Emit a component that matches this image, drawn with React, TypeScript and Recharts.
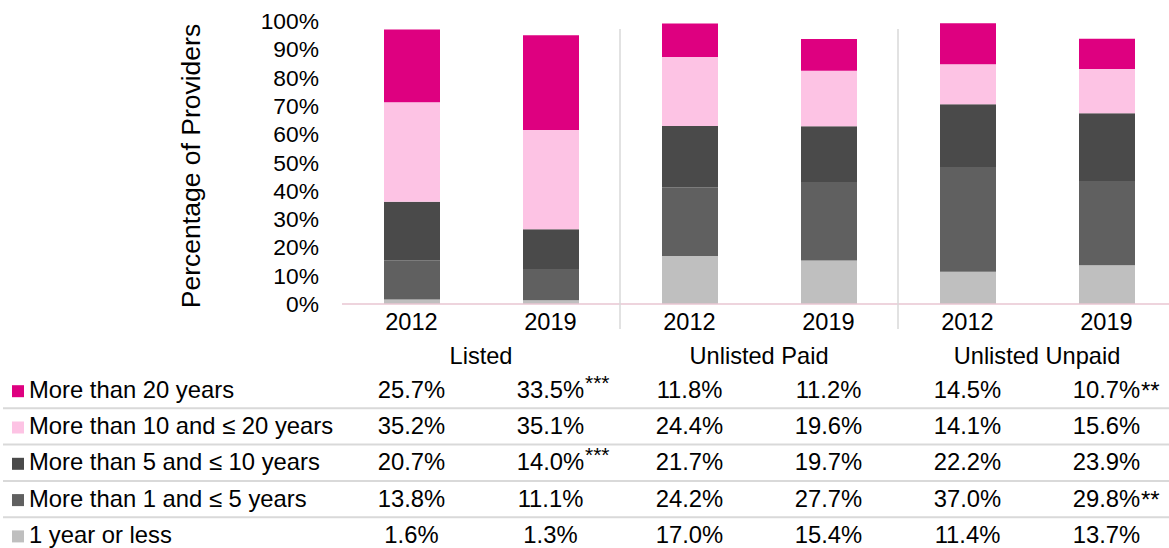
import { BarChart, Bar, XAxis, YAxis } from "recharts";

const years = ["2012", "2019", "2012", "2019", "2012", "2019"];
const groups = ["Listed", "Unlisted Paid", "Unlisted Unpaid"];
const yTicks = [0, 10, 20, 30, 40, 50, 60, 70, 80, 90, 100];

const over20 = [25.7, 33.5, 11.8, 11.2, 14.5, 10.7];
const tenTo20 = [35.2, 35.1, 24.4, 19.6, 14.1, 15.6];
const fiveTo10 = [20.7, 14.0, 21.7, 19.7, 22.2, 23.9];
const oneTo5 = [13.8, 11.1, 24.2, 27.7, 37.0, 29.8];
const upTo1 = [1.6, 1.3, 17.0, 15.4, 11.4, 13.7];

// significance markers shown next to the table values
const over20Sig = ["", "***", "", "", "", "**"];
const tenTo20Sig = ["", "", "", "", "", ""];
const fiveTo10Sig = ["", "***", "", "", "", ""];
const oneTo5Sig = ["", "", "", "", "", "**"];
const upTo1Sig = ["", "", "", "", "", ""];

const seriesKeys = ["over20", "tenTo20", "fiveTo10", "oneTo5", "upTo1"];
const seriesNames = [
  "More than 20 years",
  "More than 10 and ≤ 20 years",
  "More than 5 and ≤ 10 years",
  "More than 1 and ≤ 5 years",
  "1 year or less",
];
const seriesColors = ["#DE0080", "#FDC3E4", "#4A4A4A", "#606060", "#BFBFBF"];
const seriesValues = [over20, tenTo20, fiveTo10, oneTo5, upTo1];
const seriesSig = [over20Sig, tenTo20Sig, fiveTo10Sig, oneTo5Sig, upTo1Sig];

const data = years.map((year, i) => ({
  idx: i,
  year,
  over20: over20[i],
  tenTo20: tenTo20[i],
  fiveTo10: fiveTo10[i],
  oneTo5: oneTo5[i],
  upTo1: upTo1[i],
}));

const FONT = "'Liberation Sans', Arial, sans-serif";
const CHART_W = 1176;
const CHART_H = 548;
const Y_AXIS_W = 342;
const STEP = (CHART_W - Y_AXIS_W) / years.length;

const ROW_BASE = 93.7;
const ROW_GAP = 36.3;
const TABLE_FS = 23.8;

function ColumnTick(props: any) {
  const { x, y, payload } = props;
  const i = Number(payload.value);
  return (
    <g fontFamily={FONT} fill="#000">
      <text x={x} y={y + 26} textAnchor="middle" fontSize={23.6}>
        {years[i]}
      </text>
      {i % 2 === 0 && (
        <text x={x + STEP / 2} y={y + 60} textAnchor="middle" fontSize={23.6}>
          {groups[i / 2]}
        </text>
      )}
      {i % 2 === 1 && i < years.length - 1 && (
        <line
          x1={x + STEP / 2}
          x2={x + STEP / 2}
          y1={y - 275}
          y2={y + 25}
          stroke="#D9D9D9"
          strokeWidth={1.5}
        />
      )}
      {i === 0 &&
        seriesNames.map((name, r) => {
          const by = y + ROW_BASE + r * ROW_GAP;
          return (
            <g key={name}>
              <rect x={12} y={by - 12.5} width={12} height={12} fill={seriesColors[r]} />
              <text x={29} y={by} fontSize={TABLE_FS}>
                {name}
              </text>
              {r < seriesNames.length - 1 && (
                <line x1={3} x2={1169} y1={by + 10.6} y2={by + 10.6} stroke="#D9D9D9" strokeWidth={2} />
              )}
            </g>
          );
        })}
      {seriesValues.map((vals, r) => {
        const by = y + ROW_BASE + r * ROW_GAP;
        const sig = seriesSig[r][i];
        const raised = sig === "***";
        return (
          <g key={r}>
            <text x={x} y={by} textAnchor="middle" fontSize={TABLE_FS}>
              {vals[i].toFixed(1)}%
            </text>
            {sig && (
              <text x={x + 34.5} y={raised ? by - 8 : by + 1} fontSize={raised ? 21 : 24}>
                {sig}
              </text>
            )}
          </g>
        );
      })}
    </g>
  );
}

function YLabel() {
  return (
    <text
      x={191}
      y={166}
      transform="rotate(-90 191 166)"
      textAnchor="middle"
      dominantBaseline="central"
      fontFamily={FONT}
      fontSize={26.5}
      fill="#000"
    >
      Percentage of Providers
    </text>
  );
}

export default function App() {
  const stackOrder = [4, 3, 2, 1, 0];
  return (
    <div
      style={{
        position: "absolute",
        left: 0,
        top: 0,
        width: 1169,
        height: 548,
        overflow: "hidden",
        background: "#fff",
        fontFamily: FONT,
      }}
    >
      <BarChart
        width={CHART_W}
        height={CHART_H}
        data={data}
        margin={{ top: 21, right: 0, bottom: 0, left: 0 }}
      >
        <XAxis
          dataKey="idx"
          type="category"
          height={244}
          interval={0}
          tickLine={false}
          tickSize={0}
          tickMargin={0}
          axisLine={{ stroke: "#E8C6D2", strokeWidth: 1.5 }}
          tick={<ColumnTick />}
        />
        <YAxis
          width={Y_AXIS_W}
          domain={[0, 100]}
          ticks={yTicks}
          interval={0}
          axisLine={false}
          tickLine={false}
          tickSize={0}
          tickMargin={23}
          tickFormatter={(v) => `${v}%`}
          tick={{ fill: "#000", fontSize: 22.8, fontFamily: FONT }}
          label={<YLabel />}
        />
        {stackOrder.map((s) => (
          <Bar
            key={seriesKeys[s]}
            dataKey={seriesKeys[s]}
            name={seriesNames[s]}
            stackId="a"
            fill={seriesColors[s]}
            barSize={56}
            isAnimationActive={false}
          />
        ))}
      </BarChart>
    </div>
  );
}
